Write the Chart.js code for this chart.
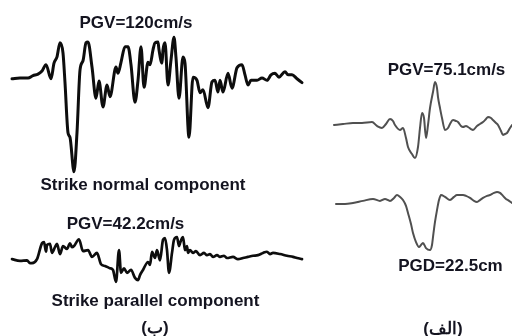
<!DOCTYPE html>
<html>
<head>
<meta charset="utf-8">
<script src="https://cdn.jsdelivr.net/npm/chart.js@4/dist/chart.umd.min.js"></script>
<style>
  html, body { margin: 0; padding: 0; background: #fff; }
  #stage { position: relative; width: 512px; height: 336px; overflow: hidden; background: #fff; }
  canvas { position: absolute; }
  .lbl {
    position: absolute; transform: translate(-50%, -50%);
    font-family: "Liberation Sans", Arial, sans-serif; font-weight: bold;
    font-size: 17px; line-height: 17px; color: #141420; white-space: nowrap;
  }
</style>
</head>
<body>
<div id="stage"></div>
<script>
// Near-fault record: strike-normal velocity (cm/s) against time (s)
const normalTime = [0,0.8,1.6,2.1,2.6,3.0,3.4,3.9,4.2,4.5,4.8,5.1,5.3,5.6,5.8,6.2,6.5,6.8,7.1,7.4,7.6,8.0,8.4,8.7,9.1,9.5,9.8,10.4,10.6,10.9,11.3,11.6,11.9,12.3,12.6,12.9,13.2,13.6,13.8,14.1,14.3,14.6,14.7,15.0,15.1,15.3,15.6,15.9,16.2,16.4,16.7,17.1,17.3,17.7,18.1,18.5,18.8,19.1,19.6,20.0,20.3,20.6,20.8,21.1,21.6,22.0,22.5,23.0,23.3,23.6,23.9,24.1,24.5,25.0,25.5,25.9,26.3,26.7,27.3,27.6,28.0,28.5,29.0];
const normalVel = [-1,0,0,3,5,9,17,-1,19,27,45,32,-6,-70,-76,-120,-70,10,22,45,46,14,-26,-4,-37,-9,-24,14,6,20,40,40,17,-31,-3,40,-12,20,17,36,45,46,36,19,36,45,-9,23,52,26,-26,27,19,-76,1,-3,-19,-15,-38,-5,-3,-18,-3,-18,6,-13,13,17,4,-9,-3,-3,-3,0,-3,4,6,1,8,4,4,-1,-6];

// Strike-parallel velocity (cm/s)
const parallelTime = [0,0.8,1.5,1.8,2.0,2.5,3.0,3.2,3.4,3.5,3.8,4.0,4.3,4.5,4.8,5.1,5.5,5.8,6.0,6.2,6.7,7.1,7.6,8.0,8.5,8.9,9.3,9.8,10.1,10.4,10.7,10.9,11.2,11.5,11.9,12.3,12.6,12.8,13.1,13.6,13.8,14.0,14.3,14.5,14.8,15.1,15.3,15.5,15.7,16.0,16.2,16.5,16.7,16.8,17.0,17.1,17.3,17.5,17.6,17.8,18.1,18.4,18.8,19.2,19.5,19.8,20.1,20.5,20.8,21.2,21.5,22.1,22.6,23.1,23.6,24.1,24.6,25.1,25.5,25.8,26.1,26.8,27.5,28.1,28.5,29.0];
const parallelVel = [-2,-5,-4,-9,-9,-2,26,28,11,23,25,9,19,25,7,21,16,26,19,21,33,12,14,2,9,-11,-14,-18,-21,-42.2,14,-26,-18,-26,-21,-35,-39,-30,-21,-7,-12,11,0,14,-4,32,35,14,-26,9,32,37,21,26,35,37,14,21,9,14,9,12,5,9,5,7,2,5,2,4,0,2,-2,0,2,4,5,9,11,7,9,7,4,2,0,-2];

// Pulse-like record: velocity (cm/s)
const pulseTime = [0,0.9,1.9,2.8,3.8,4.3,4.8,5.2,5.6,5.9,6.1,6.6,6.9,7.2,7.4,7.8,8.1,8.4,8.6,8.8,9.0,9.2,9.4,9.6,9.9,10.1,10.3,10.4,10.6,10.8,11.1,11.4,11.6,11.9,12.2,12.4,12.7,12.9,13.2,13.4,13.7,13.9,14.3,14.6,14.9,15.2,15.4,15.7,15.9,16.2,16.4,16.7,16.9,17.1,17.3,17.6,17.8];
const pulseVel = [0,1.7,3.5,3.5,5.2,-1.7,-5.2,1.7,10.5,7.0,0,-8.7,-5.2,-22.7,-38.4,-50.7,-57.7,-38.4,-5.2,21.0,12.2,-22.7,0,29.7,57.7,75.1,64.6,48.9,29.7,12.2,-8.7,-5.2,1.7,8.7,7.0,5.2,-1.7,-3.5,-1.7,-3.5,-7.0,-8.7,-1.7,1.7,5.2,10.5,14.0,12.2,8.7,3.5,0,-10.5,-17.5,-15.7,-14.0,-5.2,0];

// Same record: displacement (cm)
const dispTime = [0.2,1.1,1.9,2.9,3.9,4.6,5.1,5.6,6.0,6.3,6.6,6.9,7.2,7.4,7.7,7.9,8.2,8.5,8.7,8.9,9.2,9.6,9.8,9.9,10.1,10.3,10.5,10.7,11.1,11.6,12.0,12.3,12.9,13.2,13.6,14.0,14.3,14.6,14.9,15.3,15.6,16.0,16.3,16.6,16.9,17.2,17.4,17.8];
const dispVal = [-0.5,-0.5,0,1.0,1.9,1.0,1.9,1.0,2.4,3.8,2.9,1.4,-1.4,-4.8,-10.1,-14.4,-18.7,-21.1,-20.1,-19.2,-21.6,-22.5,-20.1,-16.3,-9.1,-3.4,1.4,3.8,2.9,1.4,2.9,3.8,3.8,3.4,2.4,1.0,0.5,1.4,2.4,3.4,3.8,4.8,5.3,4.8,3.4,1.9,1.4,0];

const labels = [
  { text: 'PGV=120cm/s', x: 136, y: 21.5 },
  { text: 'Strike normal component', x: 143, y: 184 },
  { text: 'PGV=42.2cm/s', x: 125.5, y: 222.5 },
  { text: 'Strike parallel component', x: 155.5, y: 300 },
  { text: '(ب)', x: 155, y: 327, rtl: true },
  { text: 'PGV=75.1cm/s', x: 446.5, y: 68.5 },
  { text: 'PGD=22.5cm', x: 450.5, y: 265 },
  { text: '(الف)', x: 443, y: 328, rtl: true }
];

const stage = document.getElementById('stage');
const PAD = 4;

function trace(t, v, box, range, color, width) {
  const cv = document.createElement('canvas');
  cv.width = box.w + 2 * PAD;
  cv.height = box.h + 2 * PAD;
  cv.style.left = (box.left - PAD) + 'px';
  cv.style.top = (box.top - PAD) + 'px';
  cv.style.width = cv.width + 'px';
  cv.style.height = cv.height + 'px';
  stage.appendChild(cv);
  new Chart(cv, {
    type: 'line',
    data: {
      datasets: [{
        data: t.map((x, i) => ({ x, y: v[i] })),
        borderColor: color,
        borderWidth: width,
        pointRadius: 0,
        cubicInterpolationMode: 'monotone',
        borderJoinStyle: 'round',
        borderCapStyle: 'round',
        clip: false,
        fill: false
      }]
    },
    options: {
      responsive: false,
      animation: false,
      devicePixelRatio: 1,
      layout: { padding: PAD },
      plugins: { legend: { display: false }, tooltip: { enabled: false } },
      scales: {
        x: { type: 'linear', display: false, min: range.tMin, max: range.tMax },
        y: { type: 'linear', display: false, min: range.vMin, max: range.vMax }
      }
    }
  });
}

trace(normalTime, normalVel, { left: 12, top: 30, w: 290, h: 150 },
      { tMin: 0, tMax: 29, vMin: -130.6, vMax: 61.4 }, '#0d0d0d', 3);
trace(parallelTime, parallelVel, { left: 12, top: 230, w: 290, h: 60 },
      { tMin: 0, tMax: 29, vMin: -56.3, vMax: 49.3 }, '#0d0d0d', 2.7);
trace(pulseTime, pulseVel, { left: 334, top: 75, w: 178, h: 90 },
      { tMin: 0, tMax: 17.8, vMin: -69.9, vMax: 87.4 }, '#505050', 2);
trace(dispTime, dispVal, { left: 334, top: 185, w: 178, h: 75 },
      { tMin: 0, tMax: 17.8, vMin: -27.3, vMax: 8.6 }, '#505050', 2);

labels.forEach(l => {
  const d = document.createElement('div');
  d.className = 'lbl';
  if (l.rtl) d.dir = 'rtl';
  d.textContent = l.text;
  d.style.left = l.x + 'px';
  d.style.top = l.y + 'px';
  stage.appendChild(d);
});
</script>
</body>
</html>
